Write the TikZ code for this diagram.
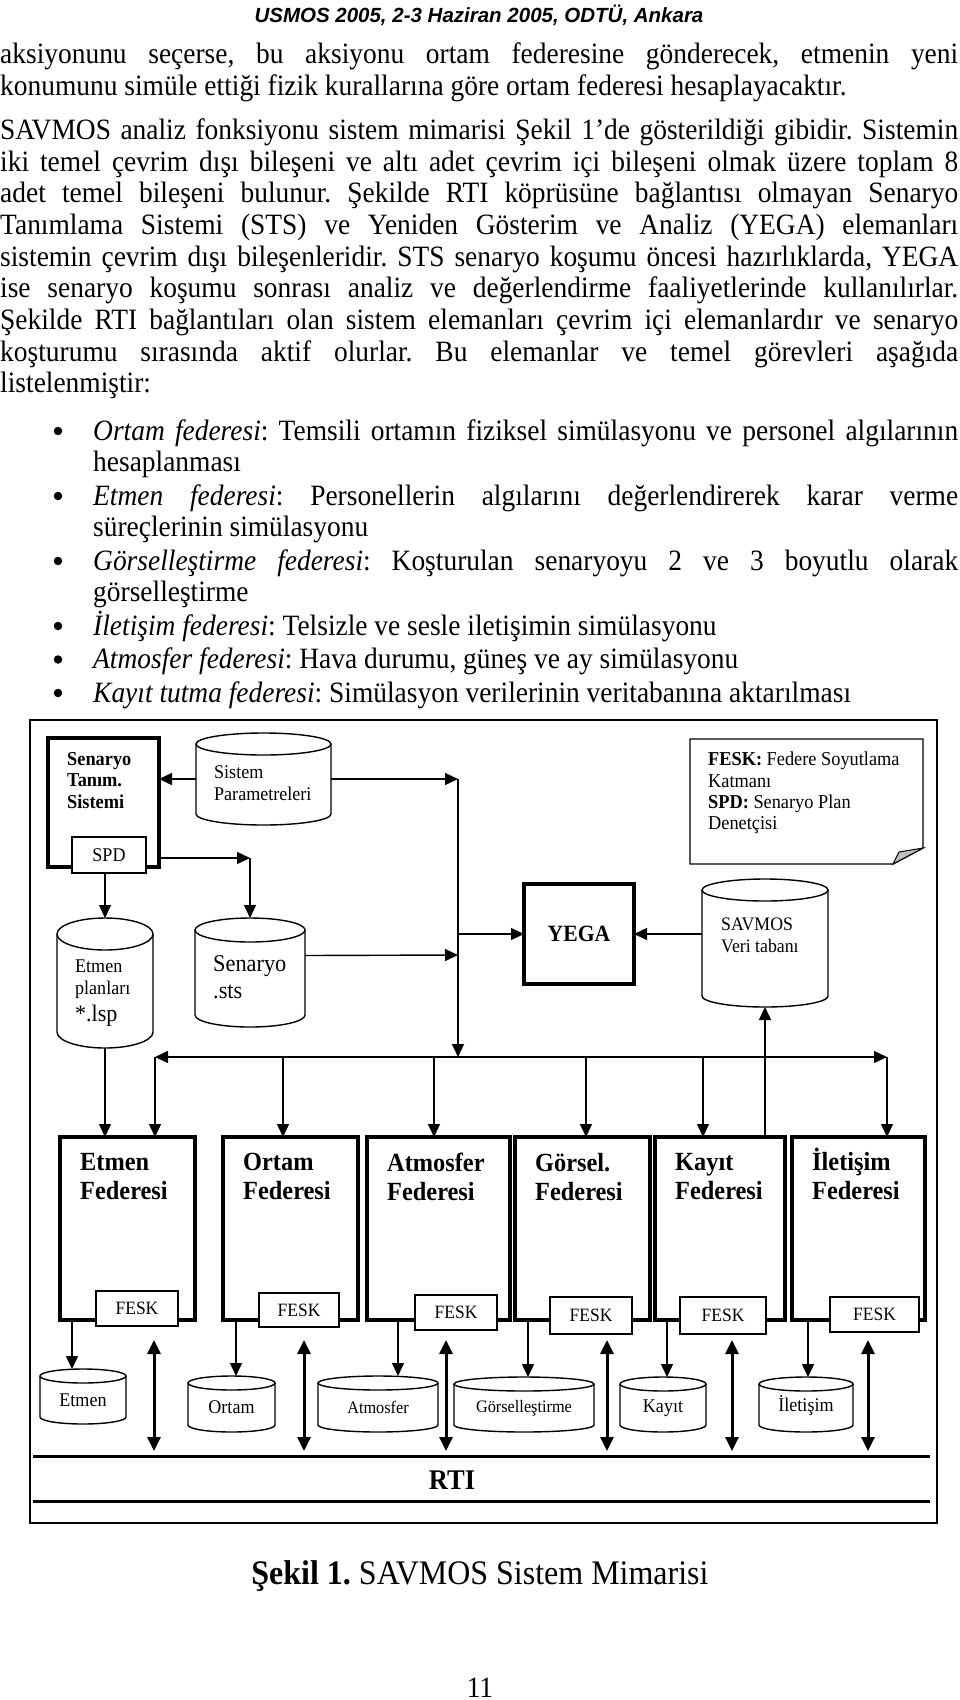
\documentclass[tikz,border=0pt]{standalone}
\usepackage{fontspec}
\setmainfont{Liberation Serif}[FakeStretch=0.93]
\newfontfamily\headfont{Liberation Sans}
\usetikzlibrary{arrows.meta}

\newcommand\bodysize{\fontsize{29.5pt}{31.7pt}\selectfont}
\newcommand\dgsize{\fontsize{19.4pt}{22pt}\selectfont}
\newcommand\fedsize{\bfseries\fontsize{26.2pt}{29pt}\selectfont}
\newcommand\jline[2][958pt]{\makebox[#1][s]{#2}}

% data store: name, left, top, right, bottom, cap radius
\newcommand\dbcyl[6]{%
  \node[cylbox,minimum width={(#4-#2)*1pt},minimum height={(#5-#3)*1pt}] (#1) at ({(#2+#4)/2},{(#3+#5)/2}) {};
  \draw[cylline] (#2,#3+#6) -- (#2,#5-#6) arc[start angle=180,end angle=0,x radius={(#4-#2)/2},y radius=#6] -- (#4,#3+#6);
  \draw[cylline] ({(#2+#4)/2},#3+#6) ellipse[x radius={(#4-#2)/2},y radius=#6];
}

\begin{document}
\frenchspacing
\begin{tikzpicture}[x=1pt,y=-1pt,
  txt/.style={anchor=base west,inner sep=0pt,font=\bodysize},
  ctxt/.style={anchor=base,inner sep=0pt},
  dot/.style={circle,fill,inner sep=0pt,minimum size=8.5},
  box/.style={draw,line width=1.4pt,inner sep=0pt,outer sep=0pt},
  thickbox/.style={draw,line width=3.2pt,inner sep=0pt,outer sep=0pt},
  fedbox/.style={thickbox,minimum height=183},
  feskbox/.style={box,fill=white,font=\fontsize{18.8pt}{21pt}\selectfont},
  cylbox/.style={inner sep=0pt,outer sep=0pt},
  cylline/.style={line width=1.4pt},
  lbl/.style={anchor=north west,inner sep=0pt,align=left},
  arr/.style={line width=1.4pt,-{Triangle[length=13pt,width=12pt]}},
  bus/.style={line width=1.4pt,{Triangle[length=13pt,width=12pt]}-{Triangle[length=13pt,width=12pt]}},
  rtiarr/.style={line width=3pt,{Triangle[length=14pt,width=13pt]}-{Triangle[length=14pt,width=13pt]}},
  rtiline/.style={line width=3pt}]
\useasboundingbox (0,0) rectangle (960,1700);

% page header
\node[ctxt,font=\headfont\bfseries\itshape\fontsize{20.5pt}{24pt}\selectfont] (head) at (479,22) {USMOS 2005, 2-3 Haziran 2005, ODTÜ, Ankara};

% text
\node[txt] (p1) at (0,63) {\jline{aksiyonunu seçerse, bu aksiyonu ortam federesine gönderecek, etmenin yeni}};
\node[txt] (p2) at (0,95) {konumunu simüle ettiği fizik kurallarına göre ortam federesi hesaplayacaktır.};
\node[txt] (p3) at (0,139.3) {\jline{SAVMOS analiz fonksiyonu sistem mimarisi Şekil 1’de gösterildiği gibidir. Sistemin}};
\node[txt] (p4) at (0,171) {\jline{iki temel çevrim dışı bileşeni ve altı adet çevrim içi bileşeni olmak üzere toplam 8}};
\node[txt] (p5) at (0,202.7) {\jline{adet temel bileşeni bulunur. Şekilde RTI köprüsüne bağlantısı olmayan Senaryo}};
\node[txt] (p6) at (0,234.4) {\jline{Tanımlama Sistemi (STS) ve Yeniden Gösterim ve Analiz (YEGA) elemanları}};
\node[txt] (p7) at (0,266.1) {\jline{sistemin çevrim dışı bileşenleridir. STS senaryo koşumu öncesi hazırlıklarda, YEGA}};
\node[txt] (p8) at (0,297.8) {\jline{ise senaryo koşumu sonrası analiz ve değerlendirme faaliyetlerinde kullanılırlar.}};
\node[txt] (p9) at (0,329.5) {\jline{Şekilde RTI bağlantıları olan sistem elemanları çevrim içi elemanlardır ve senaryo}};
\node[txt] (p10) at (0,361.2) {\jline{koşturumu sırasında aktif olurlar. Bu elemanlar ve temel görevleri aşağıda}};
\node[txt] (p11) at (0,392.9) {listelenmiştir:};

% list
\foreach \n/\y in {1/440,2/505,3/570,4/635,5/668.5,6/702}
  \node[dot] (dot\n) at (58,\y-9) {};
\node[txt] (b1) at (93,440) {\jline[865pt]{\textit{Ortam federesi}: Temsili ortamın fiziksel simülasyonu ve personel algılarının}};
\node[txt] (b1b) at (93,471) {hesaplanması};
\node[txt] (b2) at (93,505) {\jline[865pt]{\textit{Etmen federesi}: Personellerin algılarını değerlendirerek karar verme}};
\node[txt] (b2b) at (93,536.5) {süreçlerinin simülasyonu};
\node[txt] (b3) at (93,570) {\jline[865pt]{\textit{Görselleştirme federesi}: Koşturulan senaryoyu 2 ve 3 boyutlu olarak}};
\node[txt] (b3b) at (93,601.5) {görselleştirme};
\node[txt] (b4) at (93,635) {\textit{İletişim federesi}: Telsizle ve sesle iletişimin simülasyonu};
\node[txt] (b5) at (93,668.5) {\textit{Atmosfer federesi}: Hava durumu, güneş ve ay simülasyonu};
\node[txt] (b6) at (93,702) {\textit{Kayıt tutma federesi}: Simülasyon verilerinin veritabanına aktarılması};

% figure frame
\draw[line width=1.3pt] (30,720) rectangle (937,1523);

% off-line part
\node[thickbox,minimum width=111,minimum height=129] (tanim) at (103.5,802.5) {};
\node[lbl,font=\bfseries\fontsize{19.7pt}{21.5pt}\selectfont] (tanimt) at (67,752) {Senaryo\\Tanım.\\Sistemi};
\node[box,fill=white,minimum width=74,minimum height=36,font=\dgsize] (spd) at (109,855) {SPD};

\dbcyl{sispar}{196}{733}{331}{825}{11}
\node[lbl,font=\dgsize] (sispart) at (214,765) {Sistem\\Parametreleri};
\dbcyl{planlar}{57}{918}{153}{1048}{16}
\node[lbl,font=\dgsize] (planlart) at (75,960) {Etmen\\planları\\[5pt]{\fontsize{23.7pt}{24pt}\selectfont *.lsp}};
\dbcyl{senaryo}{195}{918}{305}{1027}{12}
\node[lbl,font=\fontsize{24pt}{27pt}\selectfont] (senaryot) at (213,955) {Senaryo\\.sts};

\node[thickbox,minimum width=110,minimum height=100,font=\bfseries\fontsize{23.3pt}{24pt}\selectfont] (yega) at (579,934) {YEGA};
\dbcyl{vt}{702}{879}{828}{1007}{11}
\node[lbl,font=\fontsize{19.1pt}{22pt}\selectfont] (vtt) at (721,918) {SAVMOS\\Veri tabanı};

% legend note
\draw[line width=1.4pt] (690,739) -- (923,739) -- (923,848) -- (893,864) -- (690,864) -- cycle;
\filldraw[fill=black!25,line width=1pt] (893,864) -- (899,852) -- (923,848) -- cycle;
\node[lbl,font=\fontsize{19.7pt}{21.3pt}\selectfont] (note) at (708,752) {\textbf{FESK:} Federe Soyutlama\\Katmanı\\\textbf{SPD:} Senaryo Plan\\Denetçisi};

% federates
\foreach \n/\cx/\w/\dy/\t in {1/127.5/135/16/{Etmen\\Federesi},2/290.5/135/16/{Ortam\\Federesi},3/438.5/143/16/{Atmosfer\\Federesi},4/582.5/135/16/{Görsel.\\Federesi},5/720/130/16/{Kayıt\\Federesi},6/858.5/133/11/{İletişim\\Federesi}}{
  \node[fedbox,minimum width=\w] (fed\n) at (\cx,1228.5) {};
  \node[lbl,font=\fedsize] (t\n) at ([xshift=20pt,yshift=-\dy pt]fed\n.north west) {\t};
}
\foreach \n/\cx/\cy/\w/\h in {1/137/1308.5/82/35,2/299/1310/80/34,3/456/1312.5/82/35,4/591/1315.5/82/37,5/723/1315.5/86/37,6/874.5/1314.5/89/35}
  \node[feskbox,minimum width=\w,minimum height=\h] (fesk\n) at (\cx,\cy) {FESK};

% local stores
\dbcyl{db1}{40}{1369}{126}{1424}{7}
\dbcyl{db2}{188}{1376}{275}{1432}{7}
\dbcyl{db3}{318}{1376}{438}{1432}{7}
\dbcyl{db4}{454}{1377}{594}{1432}{7}
\dbcyl{db5}{620}{1377}{706}{1432}{7}
\dbcyl{db6}{759}{1377}{853}{1432}{7}
\node[font=\dgsize] (db1t) at (83,1400) {Etmen};
\node[font=\dgsize] (db2t) at (231.5,1407.5) {Ortam};
\node[font=\fontsize{17.5pt}{19pt}\selectfont] (db3t) at (378,1407.5) {Atmosfer};
\node[font=\fontsize{17.5pt}{19pt}\selectfont] (db4t) at (524,1408) {Görselleştirme};
\node[font=\dgsize] (db5t) at (663,1408) {Kayıt};
\node[font=\dgsize] (db6t) at (806,1406) {İletişim};
\foreach \n/\o in {1/12,2/13,3/31,4/13,5/12,6/16}
  \draw[arr] ([xshift=\o pt]fed\n.south west) -- ([xshift=\o pt]fed\n.south west |- db\n.north);

% connectors
\coordinate (trunk) at (458,779);
\coordinate (busL) at (155,1057);
\coordinate (busR) at (887,1057);
\coordinate (corner) at (senaryo.north |- 0,858);
\draw[arr] (sispar.west) -- (tanim.east |- sispar.west);
\draw[arr] (sispar.east) -- (trunk |- sispar.east);
\draw[arr] (trunk) -- (trunk |- busL);
\draw[arr] ([yshift=17pt]senaryo.east) -- (trunk |- 0,955);
\draw[arr] (trunk |- yega.west) -- (yega.west);
\draw[arr] (vt.west |- yega.east) -- (yega.east);
\draw[arr] (tanim.east |- corner) -- (corner);
\draw[arr] (corner) -- (senaryo.north);
\draw[arr] (planlar.north |- spd.south) -- (planlar.north);
\draw[arr] (planlar.south) -- (planlar.south |- fed1.north);
\draw[bus] (busL) -- (busR);
\draw[arr] (busL) -- (busL |- fed1.north);
\draw[arr] (busR) -- (busR |- fed6.north);
\foreach \x/\f in {283/fed2,434/fed3,586/fed4,703/fed5}
  \draw[arr] (\x,1057) -- (\x,1057 |- \f.north);
\draw[arr] (vt.south |- fed5.north) -- (vt.south);

% RTI
\coordinate (rtiL) at (33,1456);
\coordinate (rtiR) at (930,1456);
\coordinate (rtitop) at (0,1451);
\draw[rtiline] (rtiL) -- (rtiR);
\draw[rtiline] ([yshift=-45pt]rtiL) -- ([yshift=-45pt]rtiR);
\node[ctxt,font=\bfseries\fontsize{28.5pt}{30pt}\selectfont] (rti) at (452,1489) {RTI};
\foreach \n/\x in {1/154,2/304,3/446,4/607,5/732,6/868}{
  \coordinate (r\n) at (\x,1340);
  \draw[rtiarr] (r\n) -- (r\n |- rtitop);
}

% caption and page number
\node[ctxt,font=\fontsize{34.4pt}{36pt}\selectfont] (cap) at (480,1584) {\textbf{Şekil 1.} SAVMOS Sistem Mimarisi};
\node[ctxt,font=\bodysize] (pgno) at (480,1697) {11};
\end{tikzpicture}
\end{document}
